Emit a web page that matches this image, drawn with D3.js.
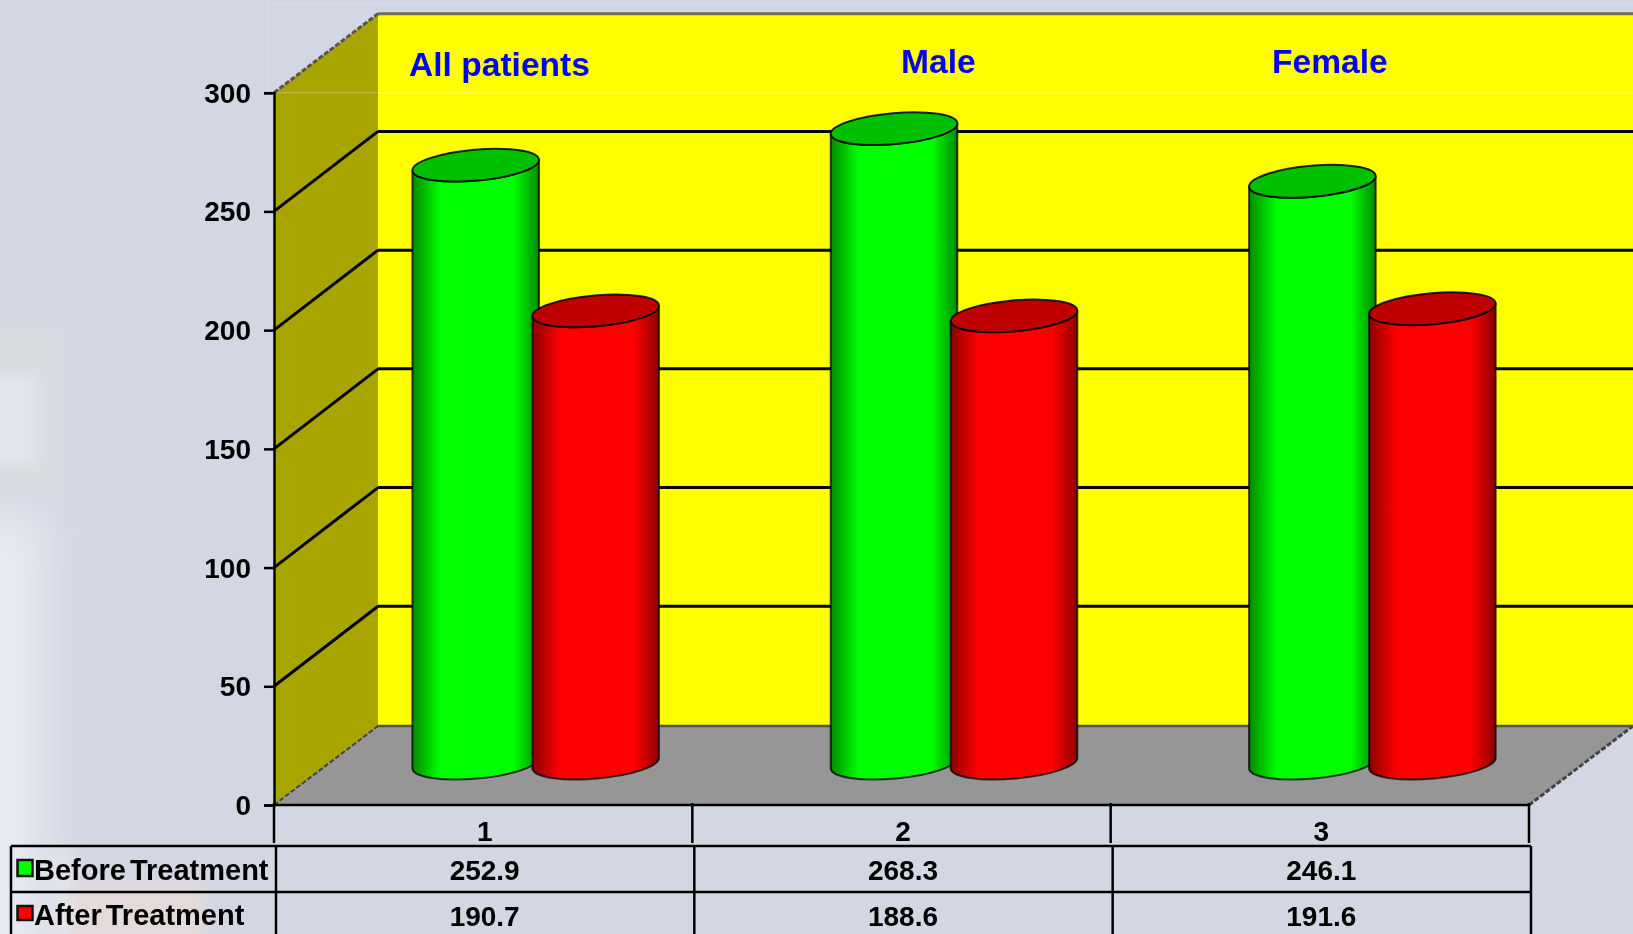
<!DOCTYPE html>
<html>
<head>
<meta charset="utf-8">
<title>Before and after treatment</title>
<script src="https://cdn.jsdelivr.net/npm/d3@7"></script>
<style>
    html, body { margin: 0; padding: 0; background: #d2d5e3; overflow: hidden; }
    svg { display: block; filter: blur(0.5px); }
    text { font-family: "Liberation Sans", Arial, sans-serif; font-weight: bold; fill: #000; }
    .axis path, .axis line { stroke: #000; stroke-width: 2.5px; }
    .axis text { font-size: 28px; }
    .grid { stroke: #000; stroke-width: 3px; }
    .title { font-size: 33.6px; fill: #0000ff; }
    .cell { font-size: 28px; text-anchor: middle; }
    .legend-text { font-size: 29px; word-spacing: -4px; }
    .table-line { stroke: #000; stroke-width: 2.5px; }
</style>
</head>
<body>
<div id="vis"></div>
<script>
var categories = ['1', '2', '3'];
var groupTitles = ['All patients', 'Male', 'Female'];
var seriesNames = ['Before Treatment', 'After Treatment'];
var beforeValues = [252.9, 268.3, 246.1];
var afterValues = [190.7, 188.6, 191.6];
var yTicks = [0, 50, 100, 150, 200, 250, 300];

var width = 1633,
    height = 934;

var margin = { left: 274, right: 104, top: 92.7, bottom: 129 };
var depth = { x: 104, y: 79 };      // how far the back wall is pushed from the front
var barDepth = 0.53;                // cylinders stand about half way back on the floor
var barDepthX = 0.505;
var capRotate = -5;

var seriesFill = ['#00ff00', '#ff0000'];
var capFill = ['#00c000', '#c00000'];
var capLift = [2.5, 0.5];           // red caps sit a touch higher than green in the picture
var rows = [beforeValues, afterValues];

var data = [];
categories.forEach((c, i) => {
    seriesNames.forEach((s, j) => {
        data.push({ category: c, series: j, value: rows[j][i] });
    });
});

var svg = d3.select('#vis')
            .append('svg')
            .attr('width', width)
            .attr('height', height);

var xScale = d3.scaleBand()
               .domain(categories)
               .range([margin.left, width - margin.right]);

var x1Scale = d3.scaleBand()
                .domain(d3.range(seriesNames.length))
                .range([xScale.bandwidth() / 2 - 120, xScale.bandwidth() / 2 + 120]);

var yScale = d3.scaleLinear()
               .domain([0, 300])
               .range([height - margin.bottom, margin.top]);

var x0 = xScale.range()[0],
    x9 = xScale.range()[1],
    y0 = yScale(0),
    y9 = yScale(300);

var defs = svg.append('defs');

// soft washed out photo behind the chart
var addBlur = (id, amount) => {
    defs.append('filter')
        .attr('id', id)
        .attr('x', '-100%').attr('y', '-100%')
        .attr('width', '300%').attr('height', '300%')
        .append('feGaussianBlur').attr('stdDeviation', amount);
};
addBlur('blur', 25);
addBlur('blurSmall', 8);

var bg = svg.append('g');
bg.append('rect').attr('width', width).attr('height', height).attr('fill', '#d3d6e3');
bg.append('rect').attr('x', -40).attr('y', 510).attr('width', 85).attr('height', 470)
  .attr('fill', '#e8ebf1').attr('filter', 'url(#blur)');
bg.append('rect').attr('x', -10).attr('y', 325).attr('width', 75).attr('height', 170)
  .attr('fill', '#d7dbe0').attr('filter', 'url(#blurSmall)');
bg.append('rect').attr('x', -10).attr('y', 375).attr('width', 48).attr('height', 90)
  .attr('fill', '#e1e7ed').attr('filter', 'url(#blurSmall)');
bg.append('rect').attr('x', 65).attr('y', 885).attr('width', 140).attr('height', 60)
  .attr('fill', '#e4dada').attr('filter', 'url(#blurSmall)');
bg.append('rect').attr('x', 55).attr('y', 850).attr('width', 14).attr('height', 90)
  .attr('fill', '#e6e8ee').attr('filter', 'url(#blurSmall)');

// shading across each cylinder
seriesFill.forEach((c, i) => {
    var dark = d3.color(c).darker(1.7);
    var grad = defs.append('linearGradient').attr('id', 'cyl' + i);
    grad.append('stop').attr('offset', '0%').attr('stop-color', dark);
    grad.append('stop').attr('offset', '22%').attr('stop-color', c);
    grad.append('stop').attr('offset', '80%').attr('stop-color', c);
    grad.append('stop').attr('offset', '100%').attr('stop-color', dark);
});

// walls and floor
svg.append('path')
   .attr('d', `M${x0},${y0}L${x0 + depth.x},${y0 - depth.y}L${x0 + depth.x},${y9 - depth.y}L${x0},${y9}Z`)
   .attr('fill', '#a8a400');
svg.append('rect')
   .attr('x', x0 + depth.x)
   .attr('y', y9 - depth.y)
   .attr('width', x9 - x0)
   .attr('height', y0 - y9)
   .attr('fill', '#ffff00');
svg.append('path')
   .attr('d', `M${x0},${y0}L${x9},${y0}L${x9 + depth.x},${y0 - depth.y}L${x0 + depth.x},${y0 - depth.y}Z`)
   .attr('fill', '#969696');

// faint frame left over around the top of the plot
svg.append('path')
   .attr('d', `M${x0 - 6},${y9}V4H${width}M${x0 - 6},${y9}H${width}`)
   .attr('fill', 'none')
   .attr('stroke', '#fff')
   .attr('stroke-opacity', 0.3);

// edges of the box
svg.append('line').attr('x1', x0 + depth.x).attr('x2', x9 + depth.x)
   .attr('y1', y9 - depth.y).attr('y2', y9 - depth.y)
   .attr('stroke', '#6f6f5a').attr('stroke-width', 3);
svg.append('line').attr('x1', x0).attr('x2', x0 + depth.x)
   .attr('y1', y9).attr('y2', y9 - depth.y)
   .attr('stroke', '#555').attr('stroke-width', 3).attr('stroke-dasharray', '5,2');
svg.append('line').attr('x1', x0).attr('x2', x0 + depth.x)
   .attr('y1', y0).attr('y2', y0 - depth.y)
   .attr('stroke', '#444').attr('stroke-width', 2).attr('stroke-dasharray', '5,2');
svg.append('line').attr('x1', x9).attr('x2', x9 + depth.x)
   .attr('y1', y0).attr('y2', y0 - depth.y)
   .attr('stroke', '#444').attr('stroke-width', 3).attr('stroke-dasharray', '5,2');
svg.append('line').attr('x1', x0 + depth.x).attr('x2', x9 + depth.x)
   .attr('y1', y0 - depth.y).attr('y2', y0 - depth.y)
   .attr('stroke', '#555').attr('stroke-width', 2.5);

// gridlines run along the side wall then the back wall
var gridTicks = yTicks.filter((d) => d > 0 && d < 300);
var gridBack = depth.y + 1;
svg.selectAll('.grid-side')
   .data(gridTicks)
   .enter()
   .append('line')
   .attr('class', 'grid grid-side')
   .attr('x1', x0)
   .attr('y1', (d) => yScale(d))
   .attr('x2', x0 + depth.x)
   .attr('y2', (d) => yScale(d) - gridBack);
svg.selectAll('.grid-back')
   .data(gridTicks)
   .enter()
   .append('line')
   .attr('class', 'grid grid-back')
   .attr('x1', x0 + depth.x)
   .attr('y1', (d) => yScale(d) - gridBack)
   .attr('x2', x9 + depth.x)
   .attr('y2', (d) => yScale(d) - gridBack);

// group titles on the back wall
svg.selectAll('.title')
   .data(groupTitles)
   .enter()
   .append('text')
   .attr('class', 'title')
   .attr('x', (d, i) => [409, 901, 1272][i])
   .attr('y', (d, i) => [76, 73, 73][i])
   .text((d) => d);

// cylinders
var rx = 63.5,
    ry = 15.5;
var tilt = capRotate * Math.PI / 180;
var ex = rx * Math.cos(tilt),
    ey = rx * Math.sin(tilt);

var bars = svg.selectAll('.bar')
              .data(data)
              .enter()
              .append('g')
              .attr('class', 'bar')
              .attr('transform', (d) => {
                  var cx = xScale(d.category) + x1Scale(d.series) + x1Scale.bandwidth() / 2 + depth.x * barDepthX;
                  return `translate(${cx},0)`;
              });

var barBase = y0 - depth.y * barDepth;
var barTop = (d) => barBase + capLift[d.series] - (y0 - yScale(d.value));

bars.append('path')
    .attr('d', (d) => {
        var t = barTop(d);
        return `M${-ex},${t - ey}L${-ex},${barBase - ey}` +
               `A${rx},${ry} ${capRotate} 0 0 ${ex},${barBase + ey}` +
               `L${ex},${t + ey}` +
               `A${rx},${ry} ${capRotate} 0 1 ${-ex},${t - ey}Z`;
    })
    .attr('fill', (d) => `url(#cyl${d.series})`)
    .attr('stroke', '#000')
    .attr('stroke-opacity', 0.75)
    .attr('stroke-width', 2);

bars.append('ellipse')
    .attr('rx', rx)
    .attr('ry', ry)
    .attr('transform', (d) => `translate(0,${barTop(d)}) rotate(${capRotate})`)
    .attr('fill', (d) => capFill[d.series])
    .attr('stroke', '#000')
    .attr('stroke-opacity', 0.85)
    .attr('stroke-width', 2);

// y axis
var yAxis = d3.axisLeft(yScale)
              .tickValues(yTicks)
              .tickSize(10)
              .tickPadding(13);
svg.append('g')
   .attr('class', 'axis')
   .attr('transform', `translate(${x0},0)`)
   .call(yAxis)
   .selectAll('text')
   .attr('dy', '0.34em');

// x axis baseline with long separators reaching the table
svg.append('line').attr('class', 'table-line')
   .attr('x1', x0).attr('x2', x9).attr('y1', y0).attr('y2', y0);
svg.selectAll('.sep')
   .data(xScale.domain().map((d) => xScale(d)).concat([x9]))
   .enter()
   .append('line')
   .attr('class', 'table-line sep')
   .attr('x1', (d) => d)
   .attr('x2', (d) => d)
   .attr('y1', y0 - 2)
   .attr('y2', y0 + 38);

var textShift = 1.5;

svg.selectAll('.cat')
   .data(categories)
   .enter()
   .append('text')
   .attr('class', 'cell cat')
   .attr('x', (d) => xScale(d) + xScale.bandwidth() / 2 + textShift)
   .attr('y', y0 + 36)
   .text((d) => d);

// data table
var tableTop = 846,
    rowHeight = 46,
    tableLeft = 11,
    tableShift = 2;

var colLines = xScale.domain().map((d) => xScale(d) + tableShift).concat([x9 + tableShift]);

svg.selectAll('.row-line')
   .data([0, 1])
   .enter()
   .append('line')
   .attr('class', 'table-line row-line')
   .attr('x1', tableLeft)
   .attr('x2', x9 + tableShift)
   .attr('y1', (d) => tableTop + d * rowHeight)
   .attr('y2', (d) => tableTop + d * rowHeight);

svg.selectAll('.col-line')
   .data([tableLeft].concat(colLines))
   .enter()
   .append('line')
   .attr('class', 'table-line col-line')
   .attr('x1', (d) => d)
   .attr('x2', (d) => d)
   .attr('y1', tableTop)
   .attr('y2', height);

var legend = svg.selectAll('.legend')
                .data(seriesNames)
                .enter()
                .append('g')
                .attr('class', 'legend')
                .attr('transform', (d, i) => `translate(0,${tableTop + i * rowHeight})`);

legend.append('rect')
      .attr('x', 17.5)
      .attr('y', 14)
      .attr('width', 15)
      .attr('height', (d, i) => 16 - i * 2)
      .attr('fill', (d, i) => seriesFill[i])
      .attr('stroke', '#111')
      .attr('stroke-width', 2.5);

legend.append('text')
      .attr('class', 'legend-text')
      .attr('x', 34)
      .attr('y', (d, i) => 34 - i)
      .text((d) => d);

rows.forEach((values, j) => {
    svg.selectAll('.val' + j)
       .data(values)
       .enter()
       .append('text')
       .attr('class', 'cell val' + j)
       .attr('x', (d, i) => xScale(categories[i]) + xScale.bandwidth() / 2 + textShift)
       .attr('y', tableTop + j * rowHeight + 34)
       .text((d) => d.toFixed(1));
});
</script>
</body>
</html>
